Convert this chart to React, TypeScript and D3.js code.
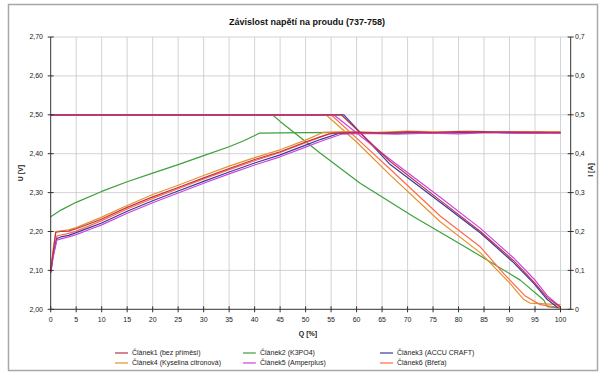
import React from "react";
import * as d3 from "d3";

// Charge level Q [%] ticks and axis tick values
const qTicks = d3.range(0, 101, 5);
const uTicks = [2.0, 2.1, 2.2, 2.3, 2.4, 2.5, 2.6, 2.7];
const iTicks = [0, 0.1, 0.2, 0.3, 0.4, 0.5, 0.6, 0.7];

const cellNames = [
  "Článek1 (bez příměsi)",
  "Článek2 (K3PO4)",
  "Článek3 (ACCU CRAFT)",
  "Článek4 (Kyselina citronová)",
  "Článek5 (Amperplus)",
  "Článek6 (Břeťa)",
];
const cellColors = ["#c0304a", "#3ca03c", "#3a3a9a", "#e8902a", "#cc44dd", "#ff6a4a"];

// Voltage U [V] versus Q [%]
const cell1U: [number, number][] = [
  [0, 2.097], [0.5, 2.15], [1, 2.198], [2, 2.2], [3.5, 2.201], [5, 2.207], [8, 2.222], [10, 2.232],
  [15, 2.262], [20, 2.289], [25, 2.313], [30, 2.338], [35, 2.362], [40, 2.385], [45, 2.405],
  [50, 2.43], [53, 2.444], [55, 2.452], [60, 2.455], [65, 2.453], [70, 2.456], [75, 2.454],
  [80, 2.457], [85, 2.455], [90, 2.456], [95, 2.454], [100, 2.455],
];
const cell2U: [number, number][] = [
  [0, 2.238], [2, 2.255], [5, 2.275], [10, 2.303], [15, 2.328], [20, 2.35], [25, 2.372],
  [30, 2.395], [35, 2.418], [38, 2.434], [41, 2.453], [50, 2.454], [60, 2.455], [70, 2.453],
  [80, 2.456], [90, 2.454], [100, 2.455],
];
const cell3U: [number, number][] = [
  [0, 2.095], [0.5, 2.14], [1.2, 2.182], [2, 2.186], [3.5, 2.19], [5, 2.197], [8, 2.212], [10, 2.222],
  [15, 2.252], [20, 2.279], [25, 2.304], [30, 2.329], [35, 2.353], [40, 2.376], [45, 2.397],
  [50, 2.422], [53, 2.437], [56.5, 2.452], [60, 2.454], [66, 2.452], [72, 2.455], [78, 2.453],
  [84, 2.456], [90, 2.454], [96, 2.455], [100, 2.453],
];
const cell4U: [number, number][] = [
  [0, 2.098], [0.5, 2.155], [1, 2.2], [2, 2.202], [3.5, 2.204], [5, 2.21], [8, 2.226], [10, 2.237],
  [15, 2.267], [20, 2.295], [25, 2.319], [30, 2.344], [35, 2.368], [40, 2.39], [45, 2.41],
  [50, 2.435], [53.5, 2.455], [58, 2.457], [64, 2.455], [70, 2.458], [76, 2.456], [82, 2.458],
  [88, 2.456], [94, 2.457], [100, 2.456],
];
const cell5U: [number, number][] = [
  [0, 2.093], [0.5, 2.135], [1.2, 2.178], [2, 2.181], [3.5, 2.186], [5, 2.192], [8, 2.207], [10, 2.217],
  [15, 2.247], [20, 2.274], [25, 2.299], [30, 2.324], [35, 2.348], [40, 2.371], [45, 2.392],
  [50, 2.417], [53, 2.432], [57, 2.45], [62, 2.452], [68, 2.45], [74, 2.453], [80, 2.451],
  [86, 2.454], [92, 2.452], [100, 2.453],
];
const cell6U: [number, number][] = [
  [0, 2.096], [0.5, 2.145], [1.2, 2.188], [2, 2.191], [3.5, 2.195], [5, 2.201], [8, 2.217], [10, 2.228],
  [15, 2.258], [20, 2.285], [25, 2.31], [30, 2.335], [35, 2.359], [40, 2.382], [45, 2.403],
  [50, 2.428], [54.5, 2.451], [59, 2.455], [65, 2.452], [71, 2.456], [77, 2.453], [83, 2.457],
  [89, 2.454], [95, 2.456], [100, 2.454],
];

// Current I [A] versus Q [%]
const cell1I: [number, number][] = [
  [0, 0.5], [57, 0.5], [66.6, 0.38], [76.4, 0.28], [84.3, 0.2], [90.8, 0.125], [94.8, 0.07],
  [97.4, 0.03], [100, 0.005],
];
const cell2I: [number, number][] = [
  [0, 0.5], [43.5, 0.5], [45, 0.483], [52.9, 0.401], [60.7, 0.324], [71.2, 0.238], [79, 0.178],
  [85.6, 0.127], [92.1, 0.075], [96.7, 0.024], [97.4, 0.007], [100, 0.003],
];
const cell3I: [number, number][] = [
  [0, 0.5], [57.5, 0.5], [66.6, 0.372], [76.4, 0.275], [84.3, 0.196], [90.8, 0.12], [94.8, 0.066],
  [97.4, 0.025], [99.5, 0.004],
];
const cell4I: [number, number][] = [
  [0, 0.5], [54, 0.5], [60, 0.43], [66.6, 0.345], [76.4, 0.225], [84.3, 0.145], [90, 0.068],
  [92.8, 0.025], [94, 0.016], [100, 0.012],
];
const cell5I: [number, number][] = [
  [0, 0.5], [55.5, 0.5], [66.6, 0.385], [76.4, 0.288], [84.3, 0.208], [90.8, 0.132], [94.8, 0.078],
  [97.4, 0.035], [100, 0.006],
];
const cell6I: [number, number][] = [
  [0, 0.5], [55, 0.5], [60, 0.44], [66.6, 0.36], [76.4, 0.24], [84.3, 0.16], [89, 0.09],
  [93, 0.035], [96, 0.012], [100, 0.004],
];

const voltages = [cell1U, cell2U, cell3U, cell4U, cell5U, cell6U];
const currents = [cell1I, cell2I, cell3I, cell4I, cell5I, cell6I];

// drawing order: later entries end up on top
const drawOrder = [1, 3, 5, 2, 4, 0];

const W = 603;
const H = 374;
const plot = { left: 50.7, right: 570.7, top: 37, bottom: 309.3 };
const font = "'Liberation Sans', Arial, sans-serif";

const comma = (s: string) => s.replace(".", ",");

export default function App() {
  const x = d3.scaleLinear().domain([0, 102]).range([plot.left, plot.right]);
  const yU = d3.scaleLinear().domain([2.0, 2.7]).range([plot.bottom, plot.top]);
  const yI = d3.scaleLinear().domain([0, 0.7]).range([plot.bottom, plot.top]);

  const lineU = d3.line<[number, number]>().x((d) => x(d[0])).y((d) => yU(d[1]));
  const lineI = d3.line<[number, number]>().x((d) => x(d[0])).y((d) => yI(d[1]));

  const fmtU = d3.format(".2f");
  const fmtI = (v: number) => (v === 0 ? "0" : comma(d3.format(".1f")(v)));

  const legendCols = [
    { lx: 115, tx: 132 },
    { lx: 243, tx: 260 },
    { lx: 380, tx: 397 },
  ];
  const legendRows = [353, 363];

  return (
    <div style={{ position: "absolute", left: 0, top: 0 }}>
      <svg width={W} height={H} style={{ display: "block", background: "#fff" }}>
        {/* chart frame */}
        <rect x={8.5} y={4.5} width={589} height={366} fill="#fff" stroke="#a8a8a8" strokeWidth={1.5} />

        <text x={307} y={25} textAnchor="middle" fontFamily={font} fontSize={9} fontWeight="bold" fill="#111">
          Závislost napětí na proudu (737-758)
        </text>

        {/* gridlines */}
        {uTicks.slice(1).map((t) => (
          <line key={"gu" + t} x1={plot.left} x2={plot.right} y1={yU(t)} y2={yU(t)} stroke="#c8c8c8" strokeWidth={0.8} />
        ))}
        {qTicks.slice(1).map((t) => (
          <line key={"gq" + t} x1={x(t)} x2={x(t)} y1={plot.top} y2={plot.bottom} stroke="#c8c8c8" strokeWidth={0.8} />
        ))}

        {/* series */}
        {drawOrder.map((i) => (
          <g key={"s" + i} fill="none" stroke={cellColors[i]} strokeWidth={1.2} strokeLinejoin="round">
            <path d={lineU(voltages[i]) || ""} />
            <path d={lineI(currents[i]) || ""} />
          </g>
        ))}

        {/* axes */}
        <g stroke="#333" strokeWidth={1}>
          <line x1={plot.left} x2={plot.left} y1={plot.top} y2={plot.bottom} />
          <line x1={plot.right} x2={plot.right} y1={plot.top} y2={plot.bottom} />
          <line x1={plot.left} x2={plot.right} y1={plot.bottom} y2={plot.bottom} />
          {uTicks.map((t) => (
            <line key={"tu" + t} x1={plot.left - 3} x2={plot.left + 3} y1={yU(t)} y2={yU(t)} />
          ))}
          {iTicks.map((t) => (
            <line key={"ti" + t} x1={plot.right - 3} x2={plot.right + 3} y1={yI(t)} y2={yI(t)} />
          ))}
          {qTicks.map((t) => (
            <line key={"tq" + t} x1={x(t)} x2={x(t)} y1={plot.bottom - 3} y2={plot.bottom + 3} />
          ))}
        </g>

        <g fontFamily={font} fontSize={7} fill="#222">
          {uTicks.map((t) => (
            <text key={"lu" + t} x={43} y={yU(t)} dy="0.35em" textAnchor="end">
              {comma(fmtU(t))}
            </text>
          ))}
          {iTicks.map((t) => (
            <text key={"li" + t} x={575} y={yI(t)} dy="0.35em" textAnchor="start">
              {fmtI(t)}
            </text>
          ))}
          {qTicks.map((t) => (
            <text key={"lq" + t} x={x(t)} y={322} textAnchor="middle">
              {t}
            </text>
          ))}
          <text x={308} y={336} textAnchor="middle" fontWeight="bold">Q [%]</text>
          <text transform="translate(23,173) rotate(-90)" textAnchor="middle" fontWeight="bold">U [V]</text>
          <text transform="translate(593,170) rotate(-90)" textAnchor="middle" fontWeight="bold">I [A]</text>
        </g>

        {/* legend */}
        <g fontFamily={font} fontSize={7} fill="#222">
          {cellNames.map((name, i) => {
            const c = legendCols[i % 3];
            const y = legendRows[Math.floor(i / 3)];
            return (
              <g key={"lg" + i}>
                <line x1={c.lx} x2={c.lx + 13} y1={y} y2={y} stroke={cellColors[i]} strokeWidth={1.2} />
                <text x={c.tx} y={y} dy="0.35em">{name}</text>
              </g>
            );
          })}
        </g>
      </svg>
    </div>
  );
}
